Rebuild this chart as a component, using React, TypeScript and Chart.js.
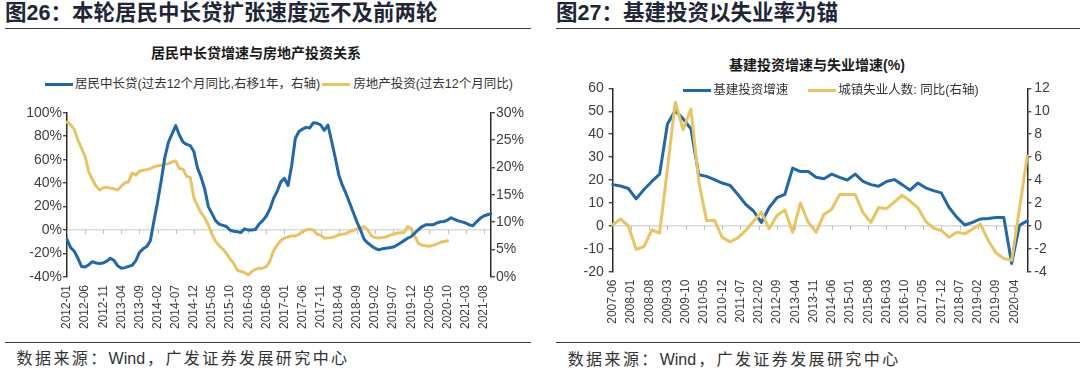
import React, { useEffect, useRef } from 'react';
import { Chart, registerables } from 'chart.js';

Chart.register(...registerables);

// ---------- helpers for month categories ----------
function monthRange(y: number, m: number, count: number): string[] {
  const out: string[] = [];
  for (let k = 0; k < count; k++) {
    const mm = m - 1 + k;
    const yy = y + Math.floor(mm / 12);
    const mo = (mm % 12) + 1;
    out.push(`${yy}-${mo < 10 ? '0' + mo : mo}`);
  }
  return out;
}

// ---------- Figure 26 data (monthly, 2012-01 .. 2021-10) ----------
const leftMonths = monthRange(2012, 1, 118);
const leftTickLabels = [
  '2012-01', '2012-06', '2012-11', '2013-04', '2013-09', '2014-02', '2014-07', '2014-12',
  '2015-05', '2015-10', '2016-03', '2016-08', '2017-01', '2017-06', '2017-11', '2018-04',
  '2018-09', '2019-02', '2019-07', '2019-12', '2020-05', '2020-10', '2021-03', '2021-08',
];
// 居民中长贷 (left axis, %)
const householdLoanGrowth = [
  -8, -15, -18, -24, -31, -31.5, -29.5, -27, -28, -28.5,
  -28, -26.5, -24, -26, -30.5, -32.5, -32, -31, -30, -26,
  -19, -16, -14, -9, 8, 24, 42, 62, 75, 82,
  89, 81, 75, 73, 72, 67, 53, 45, 35, 20,
  14, 8, 5, 4, 3, 0, -1, -1.5, -2, 1,
  0, 0, 0.5, 5, 8, 12, 18, 27, 33, 41,
  44, 38, 55, 78, 84, 86, 87.5, 87, 91.5, 91,
  89.5, 85, 89.5, 76, 62, 47, 38, 31, 23, 15,
  7, 0, -8, -11, -13.5, -15.5, -16.8, -16, -15.5, -15,
  -14.5, -13, -11, -9, -7, -5.5, -2.5, 0.5, 3, 4.5,
  4.5, 4.5, 6, 7, 7.3, 8.5, 10.5, 9, 7.8, 7,
  6, 4.5, 3.6, 7, 10, 12, 13, 14,
];
// 房地产投资 (right axis, %)
const realEstateInvestment = [
  28.3, 27.8, 27, 25, 23.5, 22, 19.2, 17.8, 16.6, 15.9,
  16.3, 16.4, 16.2, 16.1, 15.9, 16.6, 17.2, 17.4, 19, 18.6,
  19.3, 19.5, 19.6, 19.8, 20.1, 20.3, 20.4, 20.6, 20.7, 21,
  21.2, 19.8, 19.7, 18.4, 18.2, 14.5, 13, 11.7, 10.8, 9.5,
  7.8, 6.5, 5.7, 5.1, 4.3, 3.3, 2.5, 1.2, 1.0, 0.8,
  0.4, 1.0, 1.4, 1.6, 1.6, 1.9, 2.9, 4.8, 5.8, 6.7,
  7.1, 7.3, 7.5, 7.5, 7.8, 8.3, 8.6, 8.7, 8.6, 7.8,
  7.6, 7.1, 7.1, 7.2, 7.4, 7.7, 7.8, 7.9, 8.3, 8.5,
  8.8, 9.0, 9.2, 8.6, 7.5, 7.2, 7.1, 7.2, 7.3, 7.6,
  7.8, 8.0, 8.1, 8.1, 9.2, 8.9, 7.4, 6.1, 5.8, 5.7,
  5.6, 5.8, 6.0, 6.3, 6.5, 6.6,
];

// ---------- Figure 27 data (quarterly, 2007-06 .. 2020-09) ----------
const rightMonths = monthRange(2007, 6, 160);
const rightQuarters = rightMonths.filter((_, i) => i % 3 === 0);
const rightTickLabels = [
  '2007-06', '2008-01', '2008-08', '2009-03', '2009-10', '2010-05', '2010-12', '2011-07',
  '2012-02', '2012-09', '2013-04', '2013-11', '2014-06', '2015-01', '2015-08', '2016-03',
  '2016-10', '2017-05', '2017-12', '2018-07', '2019-02', '2019-09', '2020-04',
];
// 基建投资增速 (left axis)
const infraGrowth = [
  18, 17.4, 16.3, 11.8, 15.9, 19.4, 22.6, 44.5, 50.3, 46.7,
  42.4, 22.3, 21.6, 20.2, 18.7, 17.7, 13.7, 9.4, 6.5, 1.5,
  8, 12.3, 13.7, 25.2, 23.7, 23.7, 21.2, 20.6, 22.6, 21.2,
  20, 22.6, 19.4, 18, 17.3, 19.4, 20.2, 18, 15.6, 18.7,
  16.6, 15.4, 14.4, 8, 3.7, 0.4, 1.5, 3, 3.2, 3.7,
  3.7, -16.4, 0.3, 2.2,
];
// 城镇失业人数: 同比 (right axis)
const unemployedYoY = [
  0.1, 0.6, 0, -2.05, -1.8, -0.36, -0.62, 5, 10.8, 8.4,
  10.2, 3.9, 0.45, 0.5, -1.0, -1.4, -1.05, -0.4, 0.4, 1.2,
  -0.25, 0.9, 1.4, -0.56, 2.0, 0.3, -0.56, 1.0, 1.45, 2.74,
  2.74, 2.74, 1.16, 0.3, 1.6, 1.5, 2.08, 2.68, 2.17, 1.6,
  0.4, -0.2, -0.4, -1.0, -0.56, -0.7, -0.27, 0.16, -1.27, -2.36,
  -2.85, -3.0, 1.5, 6.1,
];

// ---------- styles ----------
const BLUE = '#1d69ab';
const YELLOW = '#e9c45f';
const AXIS = '#2b2b2b';
const ZERO = '#d9d9d9';
const TICK_TEXT = '#404040';
const TICK_FONT = { family: '"Liberation Sans", Arial, sans-serif', size: 14 };
const X_FONT = { family: '"Liberation Sans", Arial, sans-serif', size: 12 };
const TEXT_FAMILY = '"Liberation Sans", "Noto Sans CJK SC", sans-serif';

const zeroTicksPlugin = {
  id: 'zeroTicks',
  beforeDatasetsDraw(chart: any, _args: any, opts: any) {
    const xs = chart.scales.x;
    const ys = chart.scales.y;
    if (!xs || !ys) return;
    const y0 = ys.getPixelForValue(0);
    const labels: string[] = xs.getLabels();
    const ctx = chart.ctx;
    ctx.save();
    ctx.strokeStyle = opts.color || '#bfbfbf';
    ctx.lineWidth = 1;
    for (const lab of opts.labels || []) {
      const idx = labels.indexOf(lab);
      if (idx < 0) continue;
      const px = Math.round(xs.getPixelForValue(idx)) + 0.5;
      ctx.beginPath();
      ctx.moveTo(px, y0);
      ctx.lineTo(px, y0 + 4);
      ctx.stroke();
    }
    ctx.restore();
  },
};

function lineDs(label: string, data: any[], color: string, axis: string, order: number) {
  return {
    label,
    data,
    yAxisID: axis,
    borderColor: color,
    backgroundColor: color,
    borderWidth: 3,
    pointRadius: 0,
    pointHoverRadius: 0,
    tension: 0,
    fill: false,
    borderJoinStyle: 'round' as const,
    borderCapStyle: 'round' as const,
    order,
  };
}

function yAxis(position: 'left' | 'right', min: number, max: number, step: number, fmt: (v: number) => string, padding: number, width: number, zeroLine: boolean) {
  return {
    position,
    min,
    max,
    ticks: {
      stepSize: step,
      callback: (v: any) => fmt(Number(v)),
      padding,
      font: TICK_FONT,
      color: TICK_TEXT,
    },
    grid: {
      drawOnChartArea: zeroLine,
      color: (ctx: any) => (zeroLine && ctx.tick && ctx.tick.value === 0 ? ZERO : 'rgba(0,0,0,0)'),
      lineWidth: 1.5,
      tickColor: AXIS,
      tickLength: 4,
      tickWidth: 1.2,
    },
    border: { color: AXIS, width: 1.5 },
    afterFit: (s: any) => {
      s.width = width;
    },
  };
}

function xAxis(months: string[], tickLabels: string[], height: number) {
  const set = new Set(tickLabels);
  return {
    type: 'category' as const,
    grid: { display: false, drawTicks: false },
    border: { display: false },
    ticks: {
      autoSkip: false,
      maxRotation: 90,
      minRotation: 90,
      padding: 8,
      font: X_FONT,
      color: TICK_TEXT,
      callback: (_v: any, i: number) => (set.has(months[i]) ? months[i] : null),
    },
    afterFit: (s: any) => {
      s.height = height;
    },
  };
}

const legendSwatch = (color: string, w: number, mr: number) => (
  <span style={{ display: 'inline-block', width: w, height: 3, background: color, marginRight: mr, verticalAlign: 'middle' }} />
);

export default function App() {
  const leftRef = useRef<HTMLCanvasElement>(null);
  const rightRef = useRef<HTMLCanvasElement>(null);

  useEffect(() => {
    const pct = (v: number) => `${v}%`;
    const num = (v: number) => `${v}`;

    const left = new Chart(leftRef.current as HTMLCanvasElement, {
      type: 'line',
      data: {
        labels: leftMonths,
        datasets: [
          lineDs('居民中长贷(过去12个月同比,右移1年，右轴)', householdLoanGrowth, BLUE, 'y', 0),
          lineDs('房地产投资(过去12个月同比)', realEstateInvestment, YELLOW, 'y1', 1),
        ],
      },
      options: {
        animation: false,
        responsive: true,
        maintainAspectRatio: false,
        layout: { padding: { top: 12.7, left: 0, right: 0, bottom: 0 } },
        plugins: {
          legend: { display: false },
          tooltip: { enabled: false },
          zeroTicks: { labels: leftTickLabels, color: '#bfbfbf' },
        } as any,
        scales: {
          x: xAxis(leftMonths, leftTickLabels, 68),
          y: yAxis('left', -40, 100, 20, pct, 1, 67, true),
          y1: yAxis('right', 0, 30, 5, pct, 1, 49, false),
        } as any,
      },
      plugins: [zeroTicksPlugin],
    });

    const right = new Chart(rightRef.current as HTMLCanvasElement, {
      type: 'line',
      data: {
        labels: rightMonths,
        datasets: [
          lineDs('基建投资增速', rightQuarters.map((q, k) => ({ x: q, y: infraGrowth[k] })), BLUE, 'y', 1),
          lineDs('城镇失业人数: 同比(右轴)', rightQuarters.map((q, k) => ({ x: q, y: unemployedYoY[k] })), YELLOW, 'y1', 0),
        ],
      },
      options: {
        animation: false,
        responsive: true,
        maintainAspectRatio: false,
        layout: { padding: { top: 10.7, left: 0, right: 0, bottom: 0 } },
        plugins: {
          legend: { display: false },
          tooltip: { enabled: false },
          zeroTicks: { labels: rightTickLabels, color: '#bfbfbf' },
        } as any,
        scales: {
          x: xAxis(rightMonths, rightTickLabels, 73.3),
          y: yAxis('left', -20, 60, 10, num, 5, 72.7, true),
          y1: yAxis('right', -4, 12, 2, num, 3, 52.7, false),
        } as any,
      },
      plugins: [zeroTicksPlugin],
    });

    return () => {
      left.destroy();
      right.destroy();
    };
  }, []);

  const abs = (s: React.CSSProperties): React.CSSProperties => ({ position: 'absolute', whiteSpace: 'nowrap', ...s });

  return (
    <div style={{ position: 'absolute', left: 0, top: 0, width: 1080, height: 375, background: '#fff', overflow: 'hidden', fontFamily: TEXT_FAMILY }}>
      {/* headers */}
      <div style={abs({ left: 5, top: 1.3, fontSize: 21.5, fontWeight: 700, lineHeight: '24px', color: '#1e2638' })}>
        图26：本轮居民中长贷扩张速度远不及前两轮
      </div>
      <div style={abs({ left: 556, top: 1.3, fontSize: 21.5, fontWeight: 700, lineHeight: '24px', color: '#1e2638' })}>
        图27：基建投资以失业率为锚
      </div>
      <div style={abs({ left: 5, top: 27.6, width: 526, height: 1.5, background: '#3a3a3a' })} />
      <div style={abs({ left: 556, top: 27.6, width: 524, height: 1.5, background: '#3a3a3a' })} />

      {/* chart titles */}
      <div style={abs({ left: 106, width: 300, top: 43.3, lineHeight: '20px', textAlign: 'center', fontSize: 14, fontWeight: 700, color: '#1a1a1a' })}>
        居民中长贷增速与房地产投资关系
      </div>
      <div style={abs({ left: 667, width: 300, top: 55, lineHeight: '20px', textAlign: 'center', fontSize: 14, fontWeight: 700, color: '#1a1a1a' })}>
        基建投资增速与失业增速(%)
      </div>

      {/* canvases */}
      <div style={abs({ left: 0, top: 100, width: 540, height: 245 })}>
        <canvas ref={leftRef} />
      </div>
      <div style={abs({ left: 540, top: 75, width: 540, height: 270 })}>
        <canvas ref={rightRef} />
      </div>

      {/* legends */}
      <div style={abs({ left: 45, top: 75.3, lineHeight: '16px', fontSize: 12.5, color: '#333' })}>
        {legendSwatch(BLUE, 28, 2)}
        <span style={{ verticalAlign: 'middle', marginRight: 2 }}>居民中长贷(过去12个月同比,右移1年，右轴)</span>
        {legendSwatch(YELLOW, 28, 3)}
        <span style={{ verticalAlign: 'middle' }}>房地产投资(过去12个月同比)</span>
      </div>
      <div style={abs({ left: 683.3, top: 81.3, lineHeight: '16px', fontSize: 12.5, color: '#333' })}>
        {legendSwatch(BLUE, 27.5, 2.5)}
        <span style={{ verticalAlign: 'middle', marginRight: 20 }}>基建投资增速</span>
        {legendSwatch(YELLOW, 28, 2)}
        <span style={{ verticalAlign: 'middle' }}>城镇失业人数: 同比(右轴)</span>
      </div>

      {/* footers */}
      <div style={abs({ left: 5, top: 341.5, width: 526, height: 1.5, background: '#3a3a3a' })} />
      <div style={abs({ left: 556, top: 341.5, width: 524, height: 1.5, background: '#3a3a3a' })} />
      <div style={abs({ left: 16.6, top: 349.3, lineHeight: '20px', fontSize: 16, letterSpacing: 2.4, color: '#333' })}>
        数据来源：<span style={{ letterSpacing: 0, marginRight: 2 }}>Wind</span>，广发证券发展研究中心
      </div>
      <div style={abs({ left: 567.7, top: 350, lineHeight: '20px', fontSize: 16, letterSpacing: 2.4, color: '#333' })}>
        数据来源：<span style={{ letterSpacing: 0, marginRight: 2 }}>Wind</span>，广发证券发展研究中心
      </div>
    </div>
  );
}
